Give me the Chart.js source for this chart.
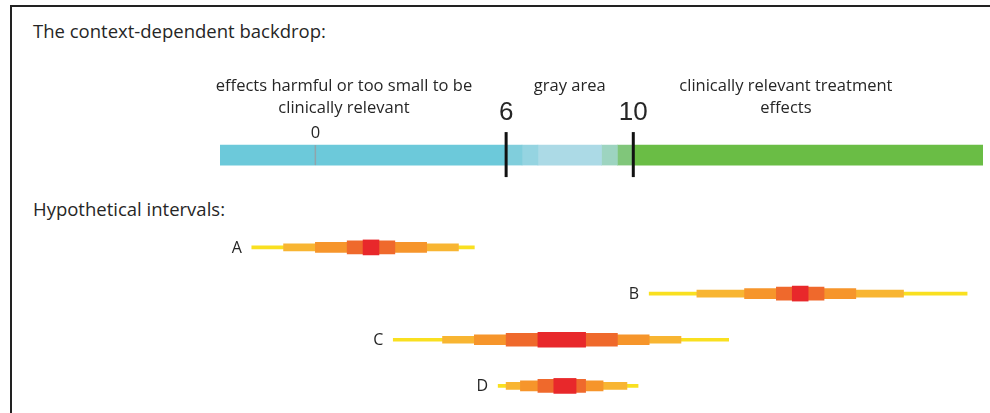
<!DOCTYPE html>
<html>
<head>
<meta charset="utf-8">
<script src="https://cdn.jsdelivr.net/npm/chart.js@4.4.1/dist/chart.umd.min.js"></script>
<style>
  html, body { margin: 0; padding: 0; background: #fff; }
  #wrap { position: relative; width: 990px; height: 413px; overflow: hidden; }
  #frame { position: absolute; left: 10px; top: 5px; width: 990px; height: 420px;
           border-top: 2px solid #222; border-left: 2px solid #222; }
  .heading { position: absolute; left: 33px; font: 18.5px "Open Sans", sans-serif; line-height: 18.5px;
             color: #262626; white-space: nowrap; }
  canvas { position: absolute; left: 0; top: 0; }
</style>
</head>
<body>
<div id="wrap">
  <div id="frame"></div>
  <div class="heading" style="top:21.5px">The context-dependent backdrop:</div>
  <div class="heading" style="top:200px">Hypothetical intervals:</div>
  <canvas id="chart" width="990" height="413"></canvas>
</div>
<script>
// rows of the chart: the backdrop bar, an empty row, then the four intervals
const rows = ['backdrop', '', 'A', 'B', 'C', 'D'];
const intervalNames = ['A', 'B', 'C', 'D'];

// backdrop bands (effect scale)
const bandEdges = [-3, 6, 6.5, 7, 9, 9.5, 10, 21];
const bandColors = ['#6cc9da', '#80cedc', '#95d4e1', '#acdae6', '#9dd4c0', '#80c67a', '#6abd45'];
const thresholds = [6, 10];
const tickValues = [0, 6, 10];
const regionText = [
  ['effects harmful or too small to be', 'clinically relevant'],
  ['gray area'],
  ['clinically relevant treatment', 'effects'],
];
const regionCenters = [0.9, 8, 14.8];

// nested intervals, widest first: [A, B, C, D] as [lower, upper]
const level1 = [[-2, 5], [10.5, 20.5], [2.45, 13], [5.75, 10.15]];
const level2 = [[-1, 4.5], [12, 18.5], [4, 11.5], [6, 9.8]];
const level3 = [[0, 3.5], [13.5, 17], [5, 10.5], [6.45, 9.05]];
const level4 = [[1, 2.5], [14.5, 16], [6, 9.5], [7, 8.5]];
const level5 = [[1.5, 2], [15, 15.5], [7, 8.5], [7.5, 8.2]];
const levels = [level1, level2, level3, level4, level5];
const levelColors = ['#f9e020', '#f8b532', '#f6952b', '#ef692c', '#e8282b'];
const levelThickness = [3, 7, 10, 13, 15];

const datasets = [];
for (let i = 0; i < bandColors.length; i++) {
  datasets.push({
    data: rows.map((r, k) => (k === 0 ? [bandEdges[i], bandEdges[i + 1]] : null)),
    backgroundColor: bandColors[i],
    barThickness: 20,
    order: 20,
  });
}
levels.forEach((lv, i) => {
  datasets.push({
    data: [null, null, ...lv],
    backgroundColor: levelColors[i],
    barThickness: levelThickness[i],
    order: levels.length - i,
  });
});

const annotations = {
  id: 'annotations',
  afterDatasetsDraw(chart) {
    const c = chart.ctx;
    const xs = chart.scales.x;
    const ys = chart.scales.y;
    const yBar = ys.getPixelForValue(0);
    c.save();
    // zero tick inside the bar
    const x0 = xs.getPixelForValue(0);
    c.strokeStyle = 'rgba(150,160,165,0.9)';
    c.lineWidth = 1.5;
    c.beginPath();
    c.moveTo(x0, yBar - 10);
    c.lineTo(x0, yBar + 10);
    c.stroke();
    // threshold marks
    c.strokeStyle = '#111';
    c.lineWidth = 3;
    thresholds.forEach((t) => {
      const x = xs.getPixelForValue(t);
      c.beginPath();
      c.moveTo(x, yBar - 23);
      c.lineTo(x, yBar + 22);
      c.stroke();
    });
    // tick labels
    c.fillStyle = '#262626';
    c.textAlign = 'center';
    c.textBaseline = 'alphabetic';
    tickValues.forEach((v) => {
      const x = xs.getPixelForValue(v);
      if (thresholds.includes(v)) {
        c.font = '26px "Liberation Sans", Arial, sans-serif';
        c.fillText(String(v), x, yBar - 35);
      } else {
        c.font = '16.5px "Open Sans", sans-serif';
        c.fillText(String(v), x, yBar - 17);
      }
    });
    // region labels
    c.font = '16.5px "Open Sans", sans-serif';
    regionText.forEach((lines, i) => {
      const x = xs.getPixelForValue(regionCenters[i]);
      lines.forEach((s, j) => c.fillText(s, x, yBar - 64 + j * 22));
    });
    // interval letters
    c.font = '16px "Open Sans", sans-serif';
    c.textAlign = 'right';
    c.textBaseline = 'middle';
    intervalNames.forEach((n, i) => {
      const x = xs.getPixelForValue(level1[i][0]) - 10;
      const y = ys.getPixelForValue(i + 2);
      c.fillText(n, x, y + 1);
    });
    c.restore();
  },
};

new Chart(document.getElementById('chart'), {
  type: 'bar',
  data: { labels: rows, datasets },
  options: {
    responsive: false,
    animation: false,
    indexAxis: 'y',
    datasets: { bar: { grouped: false, borderWidth: 0, borderSkipped: false } },
    layout: { padding: { left: 220, right: 7, top: 132, bottom: 4 } },
    scales: {
      x: { type: 'linear', min: -3, max: 21, display: false },
      y: { display: false },
    },
    plugins: { legend: { display: false }, tooltip: { enabled: false }, title: { display: false } },
  },
  plugins: [annotations],
});
</script>
</body>
</html>
